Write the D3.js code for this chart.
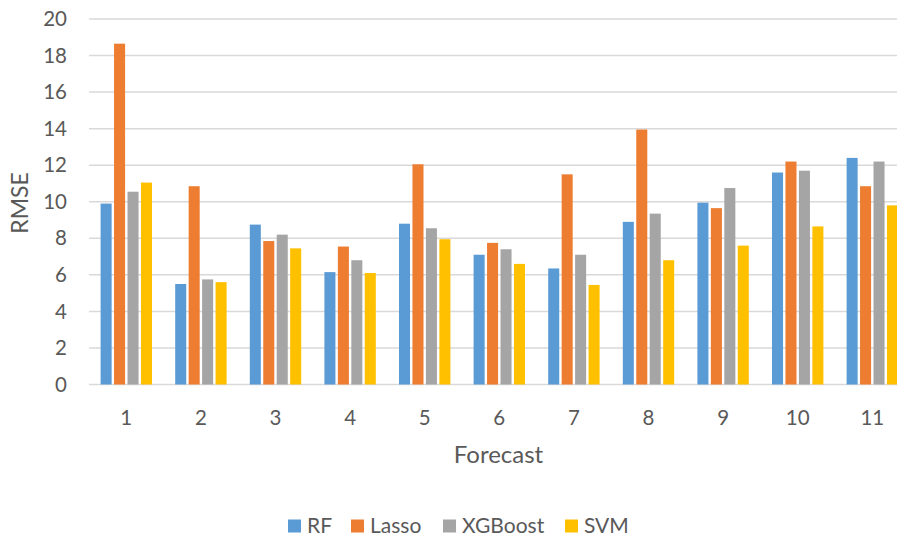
<!DOCTYPE html>
<html>
<head>
<meta charset="utf-8">
<script src="https://cdn.jsdelivr.net/npm/d3@7"></script>
<style>
  html, body { margin: 0; padding: 0; background: #fff; }
  svg { display: block; font-family: Lato, "Open Sans", sans-serif; }
</style>
</head>
<body>
<svg id="chart" width="897" height="540"></svg>
<script>
const categories = ["1","2","3","4","5","6","7","8","9","10","11"];
const seriesNames = ["RF","Lasso","XGBoost","SVM"];
const rf      = [9.9, 5.5, 8.75, 6.15, 8.8, 7.1, 6.35, 8.9, 9.95, 11.6, 12.4];
const lasso   = [18.65, 10.85, 7.85, 7.55, 12.05, 7.75, 11.5, 13.95, 9.65, 12.2, 10.85];
const xgboost = [10.55, 5.75, 8.2, 6.8, 8.55, 7.4, 7.1, 9.35, 10.75, 11.7, 12.2];
const svm     = [11.05, 5.6, 7.45, 6.1, 7.95, 6.6, 5.45, 6.8, 7.6, 8.65, 9.8];
const yTicks  = [0,2,4,6,8,10,12,14,16,18,20];
const colors  = ["#5B9BD5","#ED7D31","#A5A5A5","#FFC000"];

const seriesValues = [rf, lasso, xgboost, svm];
const svg = d3.select("#chart");
const textColor = "#595959";

const x0 = d3.scaleBand().domain(categories).range([89, 909.6]).paddingInner(0).paddingOuter(0);
const x1 = d3.scaleBand().domain(seriesNames).range([11.6, 63]).paddingInner(0.18).paddingOuter(0);
const y = d3.scaleLinear().domain([0, 20]).range([384.5, 19]);

// gridlines
svg.append("g")
  .selectAll("line")
  .data(yTicks)
  .join("line")
  .attr("x1", 89).attr("x2", 897)
  .attr("y1", d => y(d)).attr("y2", d => y(d))
  .attr("stroke", "#D9D9D9").attr("stroke-width", 1.5);

// y tick labels
svg.append("g")
  .selectAll("text")
  .data(yTicks)
  .join("text")
  .attr("x", 67).attr("y", d => y(d))
  .attr("dy", "0.35em")
  .attr("text-anchor", "end")
  .attr("fill", textColor)
  .attr("font-size", 20.5)
  .text(d => d);

// bars
const groups = svg.append("g")
  .selectAll("g")
  .data(categories)
  .join("g")
  .attr("transform", d => `translate(${x0(d)},0)`);

groups.selectAll("rect")
  .data((c, i) => seriesNames.map((s, j) => ({ s, v: seriesValues[j][i], j })))
  .join("rect")
  .attr("x", d => x1(d.s))
  .attr("width", x1.bandwidth())
  .attr("y", d => y(d.v))
  .attr("height", d => y(0) - y(d.v))
  .attr("fill", d => colors[d.j]);

// x tick labels
svg.append("g")
  .selectAll("text")
  .data(categories)
  .join("text")
  .attr("x", d => x0(d) + x0.bandwidth() / 2)
  .attr("y", 418)
  .attr("dy", "0.35em")
  .attr("text-anchor", "middle")
  .attr("fill", textColor)
  .attr("font-size", 20.5)
  .text(d => d);

// axis titles
svg.append("text")
  .attr("x", 498.5).attr("y", 455)
  .attr("dy", "0.35em")
  .attr("text-anchor", "middle")
  .attr("fill", textColor)
  .attr("font-size", 24)
  .text("Forecast");

svg.append("text")
  .attr("transform", "translate(20,203) rotate(-90)")
  .attr("dy", "0.35em")
  .attr("text-anchor", "middle")
  .attr("fill", textColor)
  .attr("font-size", 23)
  .text("RMSE");

// legend
const legendX = [288, 351, 443, 565];
const legend = svg.append("g")
  .selectAll("g")
  .data(seriesNames)
  .join("g")
  .attr("transform", (d, i) => `translate(${legendX[i]},526)`);
legend.append("rect")
  .attr("x", 0).attr("y", -6.5).attr("width", 13).attr("height", 13)
  .attr("fill", (d, i) => colors[i]);
legend.append("text")
  .attr("x", 19).attr("y", 0)
  .attr("dy", "0.35em")
  .attr("fill", textColor)
  .attr("font-size", 21)
  .text(d => d);
</script>
</body>
</html>
